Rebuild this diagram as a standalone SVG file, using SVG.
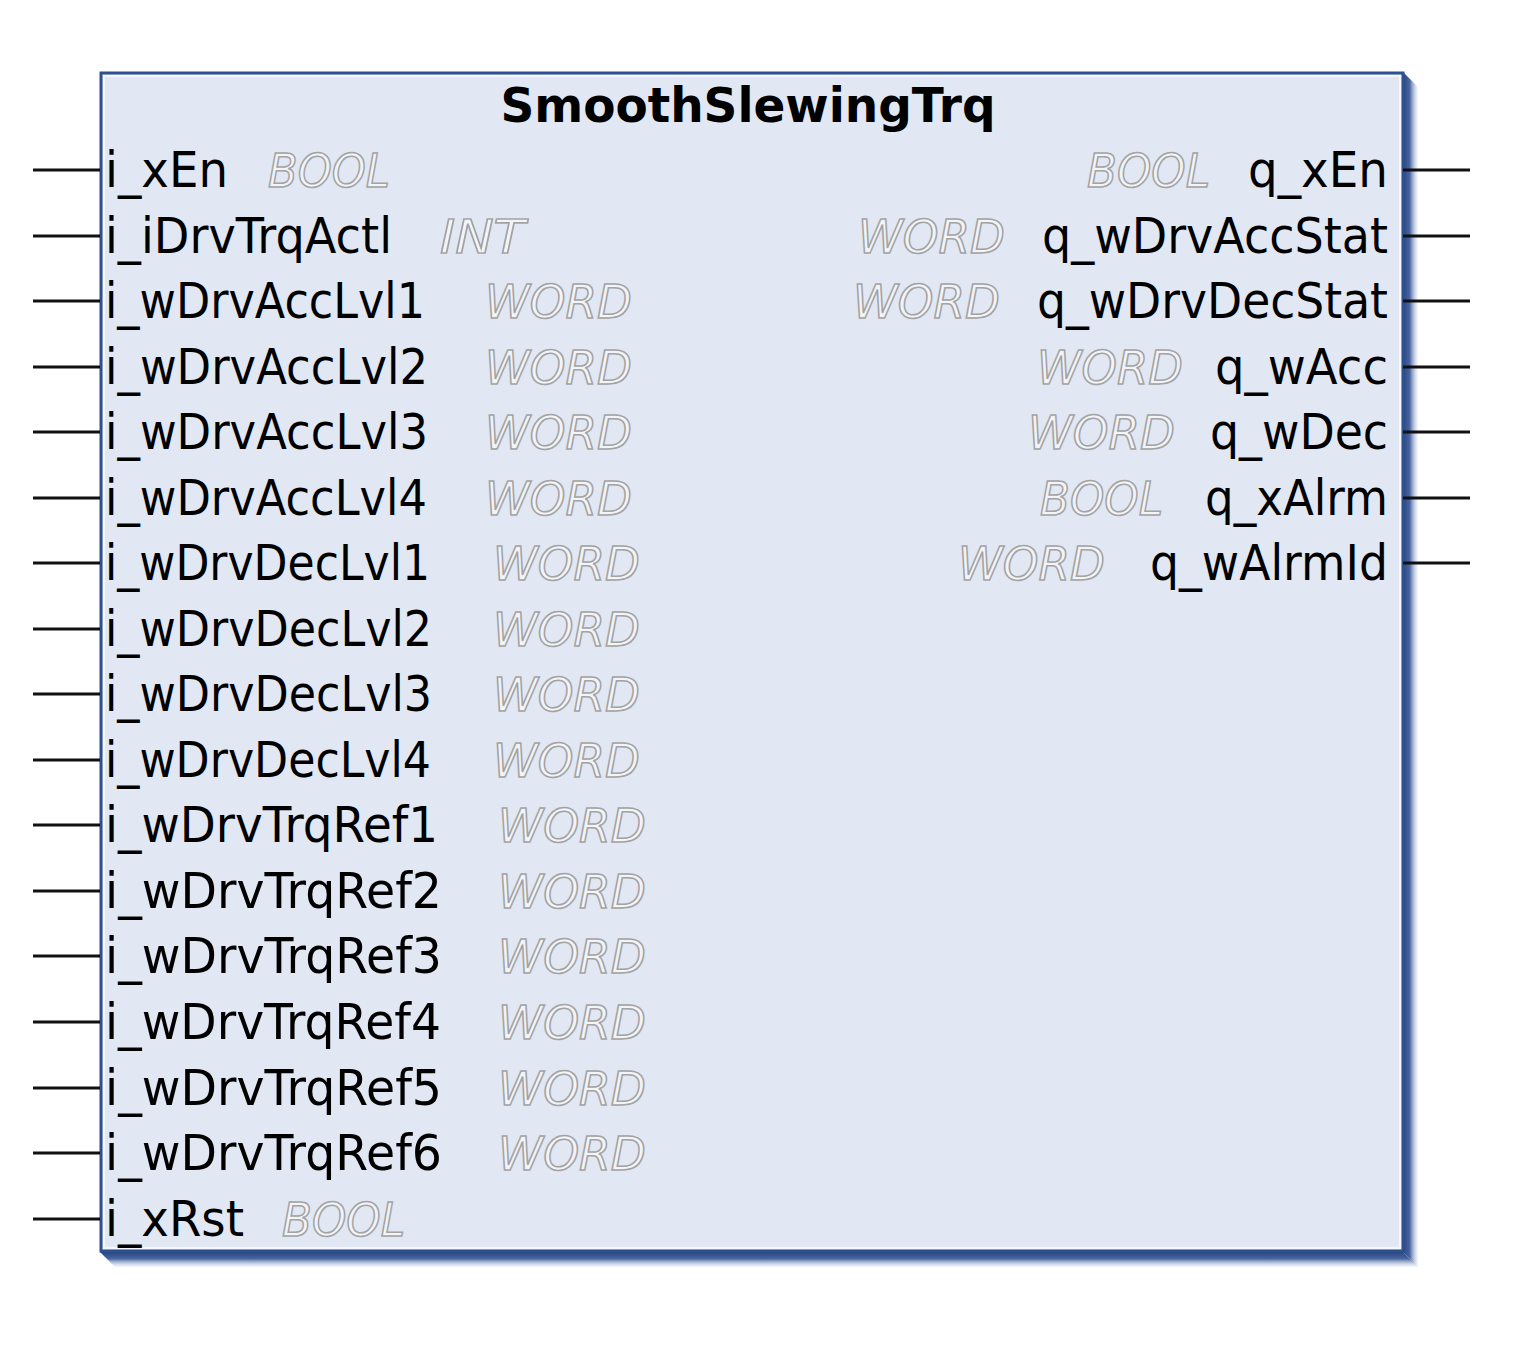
<svg xmlns="http://www.w3.org/2000/svg" width="1514" height="1350" viewBox="0 0 1514 1350">
<defs>
<linearGradient id="shR" x1="0" y1="0" x2="1" y2="0">
<stop offset="0" stop-color="#27457f"/>
<stop offset="0.45" stop-color="#4a66a0"/>
<stop offset="1" stop-color="#c9d3e8" stop-opacity="0.2"/>
</linearGradient>
<linearGradient id="shB" x1="0" y1="0" x2="0" y2="1">
<stop offset="0" stop-color="#27457f"/>
<stop offset="0.45" stop-color="#4a66a0"/>
<stop offset="1" stop-color="#c9d3e8" stop-opacity="0.2"/>
</linearGradient>
<style>
.pin{stroke:#111;stroke-width:3;fill:none}
.nm{font-family:"DejaVu Sans","Liberation Sans",sans-serif;font-size:49px;fill:#000}
.ty{font-family:"DejaVu Sans","Liberation Sans",sans-serif;font-size:47px;font-style:italic;fill:#f2f4f8;stroke:#a3a3a3;stroke-width:1.6}
.tt{font-family:"DejaVu Sans","Liberation Sans",sans-serif;font-size:48px;font-weight:bold;fill:#000}
</style>
</defs>
<g id="block">
<polygon points="1403,72 1418,87 1418,1267 1403,1252" fill="url(#shR)"/>
<polygon points="100,1252 115,1267 1418,1267 1403,1252" fill="url(#shB)"/>
<rect x="101" y="73" width="1302" height="1178" fill="#e1e8f4" stroke="#2f508f" stroke-width="3"/>
<rect x="104" y="76" width="1296" height="1172" fill="none" stroke="#f4f7fc" stroke-width="2"/>
<text class="tt" x="748" y="122" text-anchor="middle" textLength="495" lengthAdjust="spacingAndGlyphs">SmoothSlewingTrq</text>
</g>
<g id="connectors">
<path class="pin" d="M33,170H100M33,236H100M33,301H100M33,367H100M33,432H100M33,498H100M33,563H100M33,629H100M33,694H100M33,760H100M33,825H100M33,891H100M33,956H100M33,1022H100M33,1088H100M33,1153H100M33,1219H100"/>
<path class="pin" d="M1403,170H1470M1403,236H1470M1403,301H1470M1403,367H1470M1403,432H1470M1403,498H1470M1403,563H1470"/>
</g>
<g id="inputs">
<text class="nm" x="105" y="187" textLength="123" lengthAdjust="spacingAndGlyphs">i_xEn</text>
<text class="ty" x="268" y="187" textLength="122" lengthAdjust="spacingAndGlyphs">BOOL</text>
<text class="nm" x="105" y="253" textLength="287" lengthAdjust="spacingAndGlyphs">i_iDrvTrqActl</text>
<text class="ty" x="440" y="253" textLength="85" lengthAdjust="spacingAndGlyphs">INT</text>
<text class="nm" x="105" y="318" textLength="320" lengthAdjust="spacingAndGlyphs">i_wDrvAccLvl1</text>
<text class="ty" x="485" y="318" textLength="147" lengthAdjust="spacingAndGlyphs">WORD</text>
<text class="nm" x="105" y="384" textLength="323" lengthAdjust="spacingAndGlyphs">i_wDrvAccLvl2</text>
<text class="ty" x="485" y="384" textLength="147" lengthAdjust="spacingAndGlyphs">WORD</text>
<text class="nm" x="105" y="449" textLength="323" lengthAdjust="spacingAndGlyphs">i_wDrvAccLvl3</text>
<text class="ty" x="485" y="449" textLength="147" lengthAdjust="spacingAndGlyphs">WORD</text>
<text class="nm" x="105" y="515" textLength="322" lengthAdjust="spacingAndGlyphs">i_wDrvAccLvl4</text>
<text class="ty" x="485" y="515" textLength="147" lengthAdjust="spacingAndGlyphs">WORD</text>
<text class="nm" x="105" y="580" textLength="325" lengthAdjust="spacingAndGlyphs">i_wDrvDecLvl1</text>
<text class="ty" x="493" y="580" textLength="147" lengthAdjust="spacingAndGlyphs">WORD</text>
<text class="nm" x="105" y="646" textLength="327" lengthAdjust="spacingAndGlyphs">i_wDrvDecLvl2</text>
<text class="ty" x="493" y="646" textLength="147" lengthAdjust="spacingAndGlyphs">WORD</text>
<text class="nm" x="105" y="711" textLength="327" lengthAdjust="spacingAndGlyphs">i_wDrvDecLvl3</text>
<text class="ty" x="493" y="711" textLength="147" lengthAdjust="spacingAndGlyphs">WORD</text>
<text class="nm" x="105" y="777" textLength="326" lengthAdjust="spacingAndGlyphs">i_wDrvDecLvl4</text>
<text class="ty" x="493" y="777" textLength="147" lengthAdjust="spacingAndGlyphs">WORD</text>
<text class="nm" x="105" y="842" textLength="333" lengthAdjust="spacingAndGlyphs">i_wDrvTrqRef1</text>
<text class="ty" x="498" y="842" textLength="148" lengthAdjust="spacingAndGlyphs">WORD</text>
<text class="nm" x="105" y="908" textLength="337" lengthAdjust="spacingAndGlyphs">i_wDrvTrqRef2</text>
<text class="ty" x="498" y="908" textLength="148" lengthAdjust="spacingAndGlyphs">WORD</text>
<text class="nm" x="105" y="973" textLength="337" lengthAdjust="spacingAndGlyphs">i_wDrvTrqRef3</text>
<text class="ty" x="498" y="973" textLength="148" lengthAdjust="spacingAndGlyphs">WORD</text>
<text class="nm" x="105" y="1039" textLength="336" lengthAdjust="spacingAndGlyphs">i_wDrvTrqRef4</text>
<text class="ty" x="498" y="1039" textLength="148" lengthAdjust="spacingAndGlyphs">WORD</text>
<text class="nm" x="105" y="1105" textLength="337" lengthAdjust="spacingAndGlyphs">i_wDrvTrqRef5</text>
<text class="ty" x="498" y="1105" textLength="148" lengthAdjust="spacingAndGlyphs">WORD</text>
<text class="nm" x="105" y="1170" textLength="337" lengthAdjust="spacingAndGlyphs">i_wDrvTrqRef6</text>
<text class="ty" x="498" y="1170" textLength="148" lengthAdjust="spacingAndGlyphs">WORD</text>
<text class="nm" x="105" y="1236" textLength="139" lengthAdjust="spacingAndGlyphs">i_xRst</text>
<text class="ty" x="282" y="1236" textLength="123" lengthAdjust="spacingAndGlyphs">BOOL</text>
</g>
<g id="outputs">
<text class="ty" x="1087" y="187" textLength="123" lengthAdjust="spacingAndGlyphs">BOOL</text>
<text class="nm" x="1248" y="187" textLength="140" lengthAdjust="spacingAndGlyphs">q_xEn</text>
<text class="ty" x="858" y="253" textLength="147" lengthAdjust="spacingAndGlyphs">WORD</text>
<text class="nm" x="1042" y="253" textLength="346" lengthAdjust="spacingAndGlyphs">q_wDrvAccStat</text>
<text class="ty" x="853" y="318" textLength="147" lengthAdjust="spacingAndGlyphs">WORD</text>
<text class="nm" x="1037" y="318" textLength="351" lengthAdjust="spacingAndGlyphs">q_wDrvDecStat</text>
<text class="ty" x="1037" y="384" textLength="146" lengthAdjust="spacingAndGlyphs">WORD</text>
<text class="nm" x="1215" y="384" textLength="173" lengthAdjust="spacingAndGlyphs">q_wAcc</text>
<text class="ty" x="1028" y="449" textLength="147" lengthAdjust="spacingAndGlyphs">WORD</text>
<text class="nm" x="1210" y="449" textLength="178" lengthAdjust="spacingAndGlyphs">q_wDec</text>
<text class="ty" x="1040" y="515" textLength="123" lengthAdjust="spacingAndGlyphs">BOOL</text>
<text class="nm" x="1205" y="515" textLength="183" lengthAdjust="spacingAndGlyphs">q_xAlrm</text>
<text class="ty" x="958" y="580" textLength="147" lengthAdjust="spacingAndGlyphs">WORD</text>
<text class="nm" x="1150" y="580" textLength="238" lengthAdjust="spacingAndGlyphs">q_wAlrmId</text>
</g>
</svg>
